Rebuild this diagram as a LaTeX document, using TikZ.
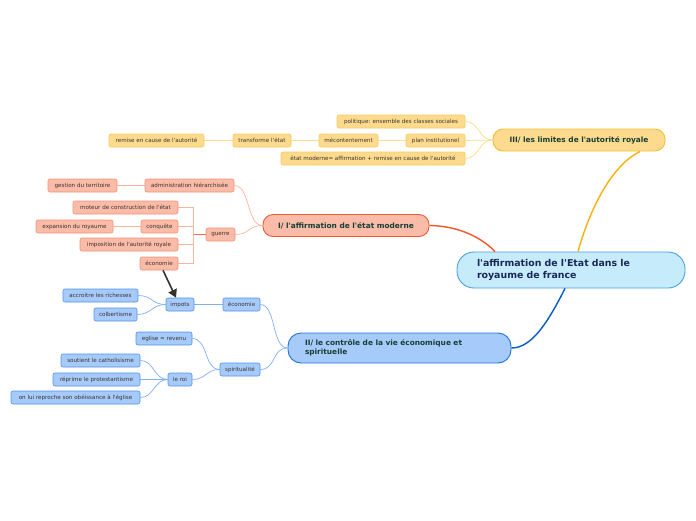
\documentclass[tikz,border=0pt]{standalone}
\usepackage{fontspec}
\setmainfont{DejaVu Sans}[Ligatures=TeXOff]
\usetikzlibrary{arrows.meta}
\definecolor{rootfill}{RGB}{198,236,251}
\definecolor{rootline}{RGB}{72,160,220}
\definecolor{roottext}{RGB}{26,40,88}
\definecolor{yelfill}{RGB}{253,219,142}
\definecolor{yelline}{RGB}{248,200,95}
\definecolor{yelmain}{RGB}{246,186,52}
\definecolor{yelwire}{RGB}{252,220,140}
\definecolor{salfill}{RGB}{250,188,168}
\definecolor{salline}{RGB}{244,146,116}
\definecolor{salmain}{RGB}{236,92,52}
\definecolor{salwire}{RGB}{249,180,158}
\definecolor{bluefill}{RGB}{166,202,250}
\definecolor{blueline}{RGB}{82,146,232}
\definecolor{bluemain}{RGB}{32,112,222}
\definecolor{bluewire}{RGB}{128,175,240}
\definecolor{branchtext}{RGB}{24,62,54}
\definecolor{leaftext}{RGB}{60,50,45}
\definecolor{wireIII}{RGB}{247,177,10}
\definecolor{wireI}{RGB}{242,86,40}
\definecolor{wireII}{RGB}{10,88,200}
\definecolor{guerrewire}{RGB}{240,112,64}
\tikzset{
  leaf/.style={draw,line width=0.6pt,rounded corners=2pt,minimum height=13pt,inner sep=1.5pt,font=\fontsize{5.6}{6.5}\selectfont,text=leaftext},
  leafyel/.style={leaf,draw=yelline,fill=yelfill},
  leafsal/.style={leaf,draw=salline,fill=salfill},
  leafblue/.style={leaf,draw=blueline,fill=bluefill},
  branch/.style={draw,line width=0.9pt,rounded corners=10pt,minimum height=22pt,inner sep=2pt,font=\fontsize{7.4}{9}\selectfont\bfseries,text=branchtext},
  rootbox/.style={draw=rootline,fill=rootfill,line width=0.9pt,rounded corners=17pt,minimum height=36pt,inner xsep=20pt,text width=188pt,align=left,font=\fontsize{9.4}{12}\selectfont\bfseries,text=roottext},
  yelwire/.style={draw=yelwire,line width=0.7pt},
  salwire/.style={draw=salwire,line width=0.7pt},
  bluewire/.style={draw=bluewire,line width=0.7pt},
  mainwire/.style={line width=1.4pt},
  bigarrow/.style={-{Triangle[length=8pt,width=9pt]},draw=black!80,line width=1.6pt}
}
\begin{document}
\begin{tikzpicture}[x=1pt,y=-1pt]
  \useasboundingbox (0,0) rectangle (696,520);

  % centre
  \node[rootbox] (root) at (571,270) {l'affirmation de l'Etat dans le\\royaume de france};

  % branches
  \node[branch,draw=yelmain,fill=yelfill,minimum width=172pt] (limites) at (579,140) {III/ les limites de l'autorité royale};
  \node[branch,draw=salmain,fill=salfill,minimum width=166pt] (etatmod) at (346,225.5) {I/ l'affirmation de l'état moderne};
  \node[branch,draw=bluemain,fill=bluefill,minimum height=30pt,rounded corners=13pt,inner xsep=17pt,text width=189pt,align=left] (controle) at (399.5,348) {II/ le contrôle de la vie économique et\\spirituelle};

  \draw[mainwire,draw=wireIII] ([xshift=7pt]root.north) .. controls (594,195) and (618,162) .. ([xshift=61pt]limites.south);
  \draw[mainwire,draw=wireI] (etatmod.east) .. controls (462,226) and (484,240) .. ([xshift=-76pt]root.north);
  \draw[mainwire,draw=wireII] ([xshift=-6pt]root.south) .. controls (548,322) and (532,348) .. (controle.east);

  % III
  \node[leafyel,minimum width=128pt] (politique) at (401,121.5) {politique: ensemble des classes sociales};
  \node[leafyel,minimum width=59pt] (plan) at (435.5,140.5) {plan institutionel};
  \node[leafyel,minimum width=184pt] (moderne) at (373,158.5) {état moderne= affirmation + remise en cause de l'autorité};
  \node[leafyel,minimum width=59pt] (mecont) at (348.5,140.5) {mécontentement};
  \node[leafyel,minimum width=58pt] (transf) at (262,140.5) {transforme l'état};
  \node[leafyel,minimum width=95pt] (remise) at (156.5,140.5) {remise en cause de l'autorité};
  \draw[yelwire] (limites.west) .. controls +(-14,0) and +(14,0) .. (politique.east);
  \draw[yelwire] (limites.west) -- (plan.east);
  \draw[yelwire] (limites.west) .. controls +(-14,0) and +(14,0) .. (moderne.east);
  \draw[yelwire] (plan.west) -- (mecont.east);
  \draw[yelwire] (mecont.west) -- (transf.east);
  \draw[yelwire] (transf.west) -- (remise.east);

  % I
  \node[leafsal,minimum width=89pt] (admin) at (189.5,185.5) {administration hiérarchisée};
  \node[leafsal,minimum width=69pt] (gestion) at (82.5,185.5) {gestion du territoire};
  \node[leafsal,minimum width=29pt] (guerre) at (220.5,234.5) {guerre};
  \node[leafsal,minimum width=105pt] (moteur) at (125.5,207.5) {moteur de construction de l'état};
  \node[leafsal,minimum width=37pt] (conquete) at (159.5,226.5) {conquête};
  \node[leafsal,minimum width=77pt] (expansion) at (74.5,226.5) {expansion du royaume};
  \node[leafsal,minimum width=98pt] (imposition) at (129,244.5) {imposition de l'autorité royale};
  \node[leafsal,minimum width=38pt] (economieI) at (159,263.5) {économie};
  \draw[salwire] (etatmod.west) .. controls +(-16,0) and +(16,0) .. (admin.east);
  \draw[salwire] (etatmod.west) .. controls +(-14,0) and +(14,0) .. (guerre.east);
  \draw[salwire] (admin.west) -- (gestion.east);
  \draw[draw=guerrewire,line width=0.7pt] (guerre.west) -- ++(-12,0) coordinate (gjoint);
  \draw[salwire] (gjoint) |- (moteur.east);
  \draw[salwire] (gjoint) |- (conquete.east);
  \draw[salwire] (gjoint) |- (imposition.east);
  \draw[salwire] (gjoint) |- (economieI.east);
  \draw[salwire] (conquete.west) -- (expansion.east);

  % II
  \node[leafblue,minimum width=37pt] (economieII) at (241.5,304.5) {économie};
  \node[leafblue,minimum width=28pt] (impots) at (180,304.5) {impots};
  \node[leafblue,minimum width=75pt] (accroitre) at (100.5,295.5) {accroitre les richesses};
  \node[leafblue,minimum width=43pt] (colbert) at (115.5,314.5) {colbertisme};
  \node[leafblue,minimum width=40pt] (spirit) at (240,369.5) {spiritualité};
  \node[leafblue,minimum width=56pt] (eglise) at (164,338.5) {eglise = revenu};
  \node[leafblue,minimum width=24pt] (roi) at (180,379.5) {le roi};
  \node[leafblue,minimum width=79pt] (soutient) at (100.5,360.5) {soutient le catholisisme};
  \node[leafblue,minimum width=87pt] (reprime) at (96.5,379.5) {réprime le protestantisme};
  \node[leafblue,minimum width=129pt] (reproche) at (75.5,397.5) {on lui reproche son obéissance à l'église};
  \draw[bluewire] (controle.west) .. controls +(-16,0) and +(16,0) .. (economieII.east);
  \draw[bluewire] (controle.west) .. controls +(-16,0) and +(16,0) .. (spirit.east);
  \draw[bluewire] (economieII.west) -- (impots.east);
  \draw[bluewire] (impots.west) .. controls +(-14,0) and +(14,0) .. (accroitre.east);
  \draw[bluewire] (impots.west) .. controls +(-14,0) and +(14,0) .. (colbert.east);
  \draw[bluewire] (spirit.west) .. controls +(-16,0) and +(16,0) .. (eglise.east);
  \draw[bluewire] (spirit.west) .. controls +(-14,0) and +(14,0) .. (roi.east);
  \draw[bluewire] (roi.west) .. controls +(-14,0) and +(14,0) .. (soutient.east);
  \draw[bluewire] (roi.west) -- (reprime.east);
  \draw[bluewire] (roi.west) .. controls +(-14,0) and +(14,0) .. (reproche.east);

  % lien
  \draw[bigarrow] ([xshift=4pt]economieI.south) -- ([xshift=-4pt]impots.north);
\end{tikzpicture}
\end{document}
